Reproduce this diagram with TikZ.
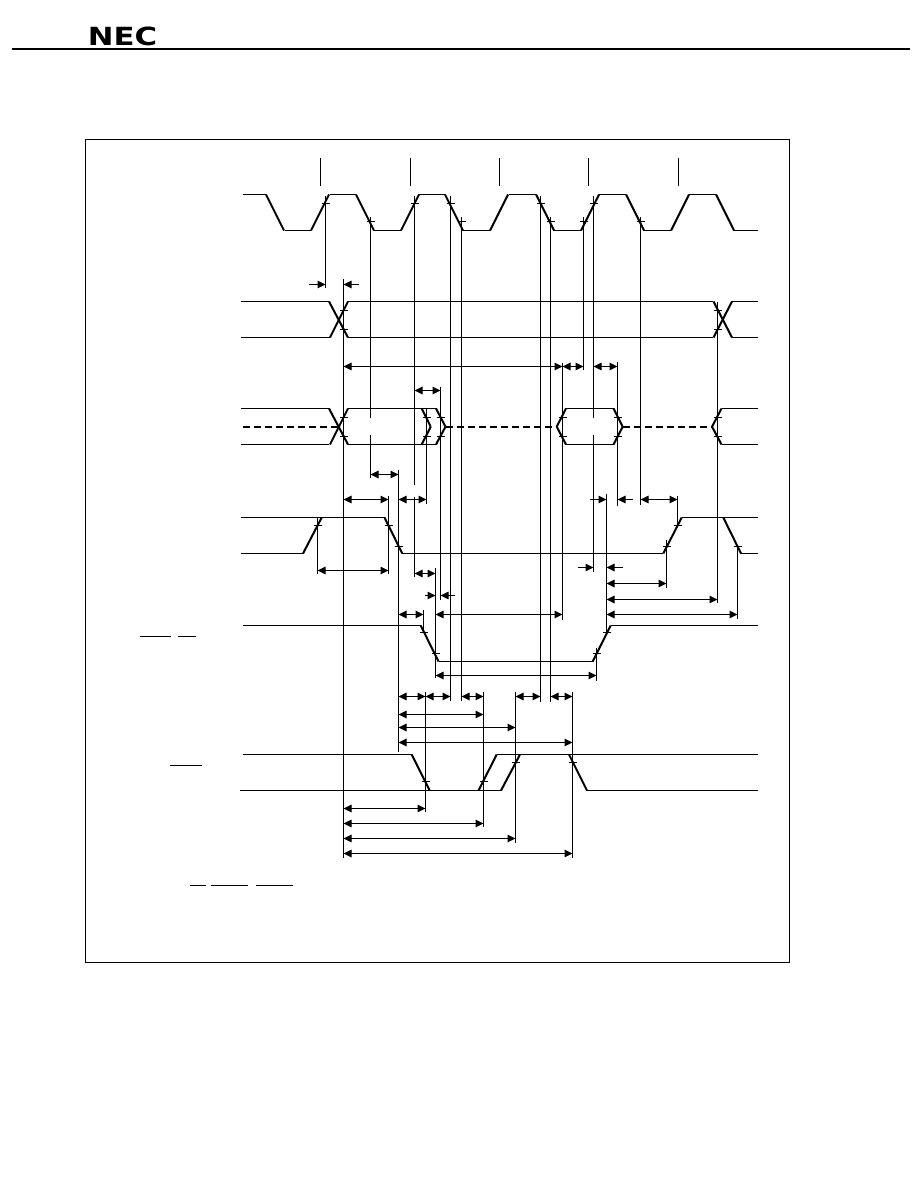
\documentclass[tikz,border=0pt]{standalone}
\usepackage{fontspec}
\newfontfamily\logofont{DejaVu Sans}
\usetikzlibrary{arrows.meta}
\tikzset{
  sigline/.style={line width=1.1pt},
  rampline/.style={line width=2pt},
  dashline/.style={line width=1.7pt, dash pattern=on 7pt off 4pt},
  markline/.style={line width=1pt},
  tickmark/.style={line width=1pt},
  dimline/.style={line width=1pt, {Triangle[length=8pt,width=7.5pt]}-{Triangle[length=8pt,width=7.5pt]}},
  dimin/.style={line width=1pt, -{Triangle[length=8pt,width=7.5pt]}},
  barline/.style={line width=1.1pt},
}

\begin{document}
\begin{tikzpicture}[x=1pt, y=-1pt]
  \useasboundingbox (0,0) rectangle (918,1188);
  % page head and frame
  \node (logo) [inner sep=0pt, xscale=1.23, transform shape] at (122.5,36) {\fontsize{25}{25}\logofont\bfseries NEC};
  \draw[line width=2pt] (12,49) -- (910,49);
  \draw[line width=1.1pt] (85.5,139.5) rectangle (789.5,962.5);
  % phase marks over the clock
  \foreach \x in {320.5,410.5,499.5,588.5,678.5}
    \draw[markline] (\x,158) -- (\x,185.5);
  % flat parts of the signals
  \foreach \xa/\xb/\y in {243/266/194.5, 330/356/194.5, 419/445/194.5, 509/536/194.5, 599/626/194.5, 689/716/194.5,
      284.5/311/230.5, 374/401/230.5, 463/490/230.5, 554/581/230.5, 644/671/230.5, 734/758/230.5,
      241/329/301.5, 348/713/301.5, 732/758/301.5, 241/330/337.5, 348/713/337.5, 732/758/337.5,
      241/329/408.5, 348/436/408.5, 566/613.5/408.5, 721.5/758/408.5, 241/329/444.5, 348/436/444.5, 566/613.5/444.5, 721.5/758/444.5,
      241/384.5/517.5, 681.7/758/517.5, 241/303/553.5, 402.3/663.3/553.5, 741/758/553.5,
      243/421/625.5, 610.7/758/625.5, 438.5/592.7/661.5,
      243/411.7/754.5, 496.7/758/754.5, 240/501/790.5, 587/758/790.5}
    \draw[sigline] (\xa,\y) -- (\xb,\y);
  % edges of the signals
  \foreach \x in {266,356,445,536,626,716}
    \draw[rampline] (\x,194.5) -- (\x+18,230.5);
  \foreach \x in {311,401,490,581,671}
    \draw[rampline] (\x,230.5) -- (\x+18,194.5);
  \foreach \xa/\ya/\xb/\yb in {329/301.5/348/337.5, 330/337.5/348/301.5, 713.5/337.5/732/301.5, 713.5/301.5/732/337.5,
      329/408.5/348/444.5, 330/444.5/348/408.5, 421.7/408.5/430.7/426.7, 430.7/426.7/421.7/444.5,
      436/408.5/445.5/426.7, 445.5/426.7/436/444.5, 556.7/426.7/566/408.5, 556.7/426.7/566/444.5,
      613.5/408.5/622.7/426.7, 622.7/426.7/613.5/444.5, 712/426.7/721.5/408.5, 712/426.7/721.5/444.5,
      303/553.5/321.7/517.5, 384.5/517.5/402.3/553.5, 663.3/553.5/681.7/517.5, 723.3/517.5/741/553.5,
      420.7/625.5/438.5/661.5, 592.7/661.5/610.7/625.5,
      411.7/754.5/429.7/790.5, 478.5/790.5/496.7/754.5, 501/790.5/520/754.5, 569/754.5/587/790.5}
    \draw[rampline] (\xa,\ya) -- (\xb,\yb);
  \foreach \xa/\xb in {243/338, 446/556.7, 622.7/712}
    \draw[dashline] (\xa,426.7) -- (\xb,426.7);
  % small ticks on the edges
  \foreach \x/\y in {325.5/203.5, 370.5/221.5, 414.5/203.5, 450.5/203.5, 461.5/221.5, 540.5/203.5, 550.5/221.5, 583.5/221.5, 593.5/203.5, 640.5/221.5,
      343.5/310.5, 343.5/329.5, 717.5/310.5, 717.5/329.5,
      343.5/417.5, 343.5/436.5, 426.5/417.5, 426.5/436.5, 440.5/417.5, 440.5/436.5, 562.5/417.5, 562.5/436.5, 617.5/417.5, 617.5/436.5, 717.5/417.5, 717.5/436.5,
      317.5/525.5, 388.5/525.5, 398.5/546.5, 666.5/546.5, 677.5/525.5, 737.5/546.5,
      423.5/632.5, 435.5/653.5, 596.5/653.5, 606.5/632.5,
      425.5/781.5, 483.5/781.5, 515.5/762.5, 572.5/762.5}
    \draw[tickmark] (\x-4,\y) -- (\x+4,\y);
  % reference lines
  \foreach \x/\ya/\yb in {325.5/196/288, 343.5/279/858, 370.5/217/418, 370.5/435/478, 414.5/196/485, 414.5/497/577,
      426.5/408/504, 440.5/387/600, 450.5/196/701, 461.5/217/701, 398.5/470/751.7, 388.5/496/574, 317.5/518/574,
      435.5/568/678, 423.5/610/632, 425.5/692/812, 483.5/692/827, 515.5/692/843.3, 572.5/692/858,
      540.5/196/701.7, 550.5/217/701.7, 562.5/363/620, 583.5/217/370, 593.5/196/418, 593.5/435/571.7,
      617.5/362/505.7, 606.5/494/633, 596.5/648/680.7, 640.5/217/505, 666.5/540/587.7, 677.5/496/527,
      717.5/302/603, 737.5/545/619.3}
    \draw[markline] (\x,\ya) -- (\x,\yb);
  % timing arrows between the reference lines
  \foreach \xa/\xb/\y in {343.5/562.5/366.5, 562.5/583.5/366.5, 593.5/617.5/366.5, 414.5/440.5/390.5,
      370.5/398.5/474.5, 343.5/388.5/499.5, 398.5/426.5/499.5, 640.5/677.5/499.5,
      317.5/388.5/570.5, 414.5/435.5/573.5, 606.5/666.5/583.5, 606.5/717.5/599.5,
      398.5/423.5/614.5, 435.5/562.5/614.5, 606.5/737.5/614.5, 435.5/596.5/675.5,
      398.5/425.5/696.5, 425.5/450.5/696.5, 461.5/483.5/696.5, 515.5/540.5/696.5, 550.5/572.5/696.5,
      398.5/483.5/714.5, 398.5/515.5/727.5, 398.5/572.5/742.5,
      343.5/425.5/808.5, 343.5/483.5/823.5, 343.5/515.5/838.5, 343.5/572.5/853.5}
    \draw[dimline] (\xa,\y) -- (\xb,\y);
  % arrows pointing in from outside
  \foreach \xa/\xb/\xc/\xd/\y in {308.5/325.5/358.5/343.5/284.5, 590/606.5/632.5/617.5/499.5,
      578/593.5/623/606.5/567.5, 424.5/435.5/455/440.5/595.5}{
    \draw[dimin] (\xa,\y) -- (\xb,\y);
    \draw[dimin] (\xc,\y) -- (\xd,\y);
  }
  % bars left over the signal names
  \foreach \xa/\xb/\y in {140/171/636.5, 178/196/636.5, 170/201.5/765.5, 190/206/885.5, 211/248/885.5, 256/293/885.5}
    \draw[barline] (\xa,\y) -- (\xb,\y);
\end{tikzpicture}
\end{document}
